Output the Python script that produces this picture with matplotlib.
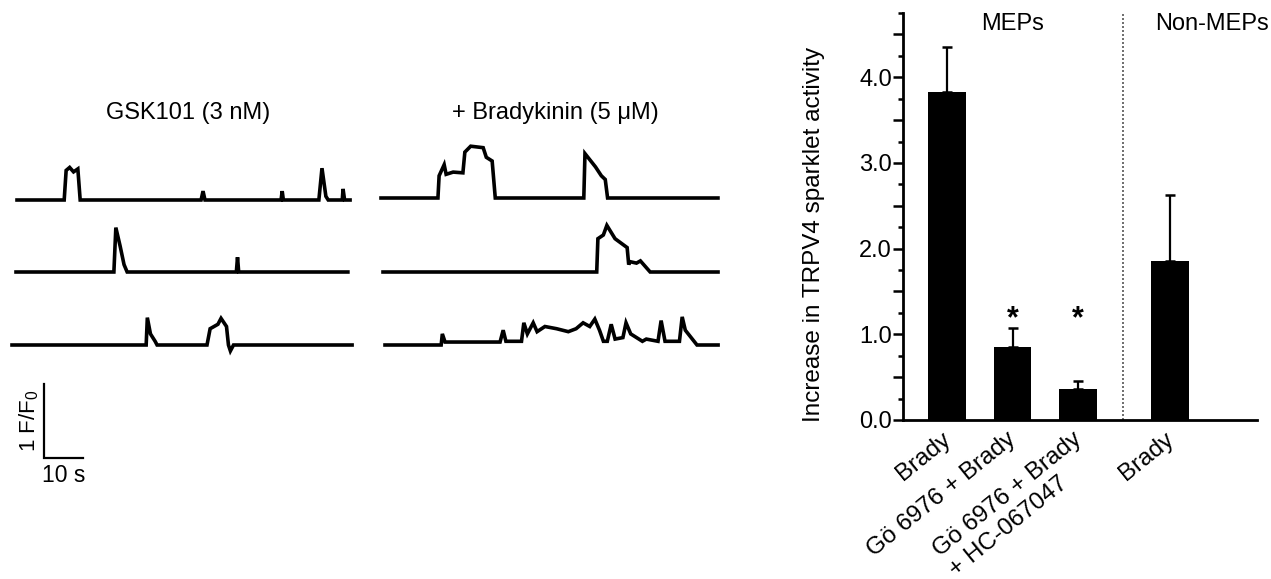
import matplotlib
matplotlib.use("Agg")
import matplotlib.pyplot as plt
import matplotlib.transforms as mtransforms
from matplotlib.ticker import MultipleLocator, FixedLocator, FuncFormatter

plt.rcParams['font.family'] = ['Liberation Sans', 'DejaVu Sans']
plt.rcParams['mathtext.fontset'] = 'custom'
plt.rcParams['mathtext.rm'] = 'Liberation Sans'
plt.rcParams['mathtext.default'] = 'regular'

# ---------------- data ----------------
# Bar chart
categories = ["Brady", "Gö 6976 + Brady", "Gö 6976 + Brady\n+ HC-067047", "Brady"]
means = [3.83, 0.85, 0.36, 1.86]
sem = [0.52, 0.22, 0.09, 0.77]
significant = [False, True, True, False]
group_labels = ["MEPs", "Non-MEPs"]
y_label = "Increase in TRPV4 sparklet activity"
y_ticks = [0, 1, 2, 3, 4]

# Traces: (time s, delta F/F0) breakpoints
gsk_1_t = [0, 12.1, 12.6, 13.5, 14.5, 15.6, 16.2, 47.2, 47.7, 48.2, 67.7, 68.0, 68.3, 77.4, 78.2, 79.2, 79.8, 83.4, 83.6, 84.0, 85.4]
gsk_1_y = [0, 0, 0.40, 0.44, 0.38, 0.42, 0, 0, 0.12, 0, 0, 0.12, 0, 0, 0.43, 0.05, 0, 0, 0.15, 0, 0]
gsk_2_t = [0, 25.1, 25.6, 26.7, 27.7, 28.5, 56.5, 56.8, 57.1, 85.1]
gsk_2_y = [0, 0, 0.60, 0.35, 0.10, 0, 0, 0.20, 0, 0]
gsk_3_t = [0, 34.4, 34.7, 35.5, 36.7, 37.2, 50.0, 50.8, 52.8, 53.6, 55.0, 55.5, 56.0, 56.8, 87.2]
gsk_3_y = [0, 0, 0.37, 0.15, 0.05, 0, 0, 0.22, 0.28, 0.36, 0.25, 0, -0.08, 0, 0]
brady_1_t = [0, 14.6, 14.9, 16.2, 16.7, 18.5, 21.0, 21.5, 23.0, 26.2, 27.0, 28.5, 29.3, 52.0, 52.3, 55.0, 56.5, 57.5, 58.1, 86.4]
brady_1_y = [0, 0, 0.30, 0.45, 0.32, 0.35, 0.34, 0.62, 0.70, 0.68, 0.55, 0.50, 0, 0, 0.60, 0.42, 0.30, 0.25, 0, 0]
brady_2_t = [0, 54.8, 55.1, 56.5, 57.4, 59.5, 62.6, 63.0, 63.3, 65.0, 66.0, 68.5, 85.9]
brady_2_y = [0, 0, 0.45, 0.50, 0.63, 0.45, 0.33, 0.10, 0.14, 0.12, 0.15, 0, 0]
brady_3_t = [0, 14.4, 14.7, 15.4, 29.5, 30.3, 31.0, 35.0, 35.6, 36.5, 38.0, 39.0, 41.0, 44.0, 47.0, 49.0, 50.8,
             52.5, 53.8, 55.0, 56.0, 57.0, 58.0, 59.0, 61.0, 61.8, 63.0, 66.0, 67.0, 70.0, 70.8, 71.8, 75.5, 76.2,
             77.0, 78.5, 80.0, 85.4]
brady_3_y = [0, 0, 0.15, 0.04, 0.04, 0.20, 0.05, 0.05, 0.30, 0.15, 0.30, 0.18, 0.25, 0.22, 0.18, 0.22, 0.30,
             0.25, 0.35, 0.20, 0.05, 0.05, 0.28, 0.08, 0.10, 0.30, 0.15, 0.05, 0.08, 0.05, 0.33, 0.05, 0.05, 0.38,
             0.20, 0.10, 0, 0]
panel_titles = ["GSK101 (3 nM)", "+ Bradykinin (5 μM)"]
scale_x_s = 10   # seconds
scale_y = 1      # F/F0

# ---------------- figure ----------------
W, H = 1271, 579
fig = plt.figure(figsize=(W / 100, H / 100), dpi=100)
FS = 17

# --- traces panel (pixel-based layout) ---
PX_PER_S = 3.9
PX_PER_U = 74.0
ax_tr = fig.add_axes([0, (H - 500) / H, 740 / W, 420 / H])
ax_tr.set_xlim(0, 740 / PX_PER_S)
ax_tr.set_ylim(0, 420 / PX_PER_U)
ax_tr.axis('off')

traces = [
    (gsk_1_t, gsk_1_y, 17, 200),
    (gsk_2_t, gsk_2_y, 16, 272),
    (gsk_3_t, gsk_3_y, 12, 345),
    (brady_1_t, brady_1_y, 381, 198),
    (brady_2_t, brady_2_y, 383, 272),
    (brady_3_t, brady_3_y, 385, 345),
]
for t, y, x0, base in traces:
    xs = [x0 / PX_PER_S + v for v in t]
    ys = [(500 - base) / PX_PER_U + v for v in y]
    ax_tr.plot(xs, ys, color='black', lw=2.6, solid_joinstyle='miter')

# scale bar
sb_x = 44 / PX_PER_S
sb_y = (500 - 458) / PX_PER_U
ax_tr.plot([sb_x, sb_x, sb_x + scale_x_s], [sb_y + scale_y, sb_y, sb_y], color='black', lw=1.6,
           solid_joinstyle='miter')
ax_tr.text(sb_x - 0.8, sb_y + scale_y / 2, "1 F/F$_0$", rotation=90, ha='right', va='center', fontsize=16)
ax_tr.text(sb_x + scale_x_s / 2, sb_y - 0.08, "10 s", ha='center', va='top', fontsize=16.5)

fig.text(188 / W, 1 - 113 / H, panel_titles[0], ha='center', va='center', fontsize=FS)
fig.text(555 / W, 1 - 113 / H, panel_titles[1], ha='center', va='center', fontsize=FS)

# --- bar chart ---
positions = [0, 1, 2, 3.4]
ax = fig.add_axes([903 / W, (H - 420) / H, 354 / W, 407 / H])
ax.bar(positions, means, width=0.57, color='black', zorder=3)
ax.errorbar(positions, means, yerr=[[0] * len(sem), sem], fmt='none', ecolor='black',
            elinewidth=1.6, capsize=3.5, capthick=1.8, zorder=2)
for p, m, e, s in zip(positions, means, sem, significant):
    if s:
        ax.text(p, 1.18, "*", ha='center', va='center', fontsize=22, fontweight='bold')

ax.set_xlim(-0.672, 4.73)
ax.set_ylim(0, 4.75)
ax.axvline(2.69, color='#555555', ls=(0, (1.2, 1.2)), lw=1.2, zorder=1)

for s in ['top', 'right']:
    ax.spines[s].set_visible(False)
ax.spines['left'].set_linewidth(2.0)
ax.spines['bottom'].set_linewidth(2.0)
half_ticks = [v * 0.5 for v in range(0, 10)]
ax.yaxis.set_major_locator(FixedLocator(half_ticks))
ax.yaxis.set_major_formatter(FuncFormatter(lambda v, pos: f"{v:.1f}" if v in y_ticks else ""))
ax.yaxis.set_minor_locator(MultipleLocator(0.25))
ax.tick_params(axis='y', which='major', length=7, width=1.8, labelsize=FS, pad=1)
ax.tick_params(axis='y', which='minor', length=3.5, width=1.8)
ax.tick_params(axis='x', length=0, pad=4)
ax.set_xticks(positions)
ax.set_xticklabels(categories, rotation=39, ha='right', va='top', rotation_mode='anchor',
                   fontsize=FS + 0.5, multialignment='left')
shift = mtransforms.ScaledTranslation(-6 / 100, -3 / 100, fig.dpi_scale_trans)
for lab in ax.get_xticklabels():
    lab.set_transform(lab.get_transform() + shift)

ax.set_ylabel(y_label, fontsize=FS + 0.5)
ax.yaxis.set_label_coords(-0.220, 0.457)

ax.text(1.0, 4.62, group_labels[0], ha='center', va='center', fontsize=FS)
ax.text(4.05, 4.62, group_labels[1], ha='center', va='center', fontsize=FS)

fig.savefig("out.png", dpi=100)
